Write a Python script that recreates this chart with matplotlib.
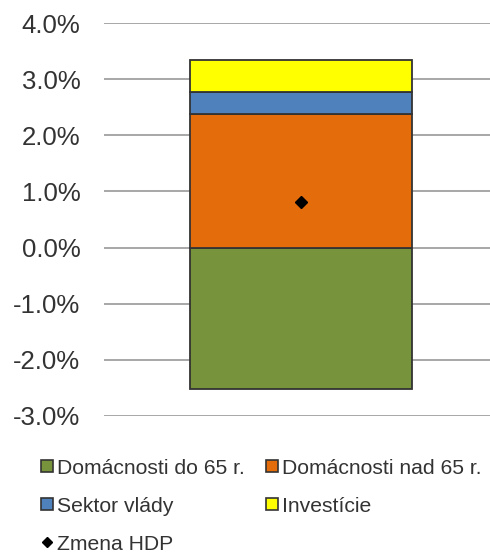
import matplotlib
matplotlib.use('Agg')
import matplotlib.pyplot as plt
from matplotlib.lines import Line2D
from matplotlib.ticker import FuncFormatter

series = ['Domácnosti do 65 r.', 'Domácnosti nad 65 r.', 'Sektor vlády', 'Investície']
values = [-2.52, 2.385, 0.395, 0.56]
colors = ['#77933C', '#E46C0A', '#4F81BD', '#FFFF00']
hdp_label = 'Zmena HDP'
hdp_value = 0.82

plt.rcParams['font.family'] = ['Liberation Sans', 'DejaVu Sans']

fig = plt.figure(figsize=(4.9, 5.55), dpi=100)
ax = fig.add_axes([0.212, 0.2505, 0.788, 0.708])

pos_base = 0.0
neg_base = 0.0
for name, v, c in zip(series, values, colors):
    if v >= 0:
        ax.bar(0, v, bottom=pos_base, width=0.575, color=c, edgecolor='#333333', linewidth=1.3, zorder=3)
        pos_base += v
    else:
        ax.bar(0, v, bottom=neg_base, width=0.575, color=c, edgecolor='#333333', linewidth=1.3, zorder=3)
        neg_base += v
ax.plot([0], [hdp_value], marker='D', color='black', markersize=6, linestyle='none', zorder=4)

ax.set_xlim(-0.51, 0.49)
ax.set_ylim(-3.0, 4.0)
ax.set_yticks([-3, -2, -1, 0, 1, 2, 3, 4])
ax.yaxis.set_major_formatter(FuncFormatter(lambda y, p: f'{y:.1f}%'))
ax.tick_params(axis='y', length=0, pad=17, labelsize=18.5, labelcolor='#333333')
ax.set_xticks([])
ax.grid(axis='y', color='#A0A0A0', linewidth=1.3, zorder=0)
for s in ax.spines.values():
    s.set_visible(False)

def sq(c):
    return Line2D([], [], marker='s', linestyle='none', markersize=8,
                  markerfacecolor=c, markeredgecolor='#333333', markeredgewidth=1.2)

handles = [sq(colors[0]), sq(colors[2]),
           Line2D([], [], marker='D', linestyle='none', markersize=5.5, color='black'),
           sq(colors[1]), sq(colors[3])]
labels = [series[0], series[2], hdp_label, series[1], series[3]]
leg = fig.legend(handles, labels, ncol=2, loc='upper left', bbox_to_anchor=(0.085, 0.1735),
                 frameon=False, fontsize=15.2, handlelength=0.55, handletextpad=0.2,
                 labelspacing=0.9, columnspacing=1.0, borderpad=0, borderaxespad=0)
for t in leg.get_texts():
    t.set_color('#333333')

plt.savefig('out.png', dpi=100)
